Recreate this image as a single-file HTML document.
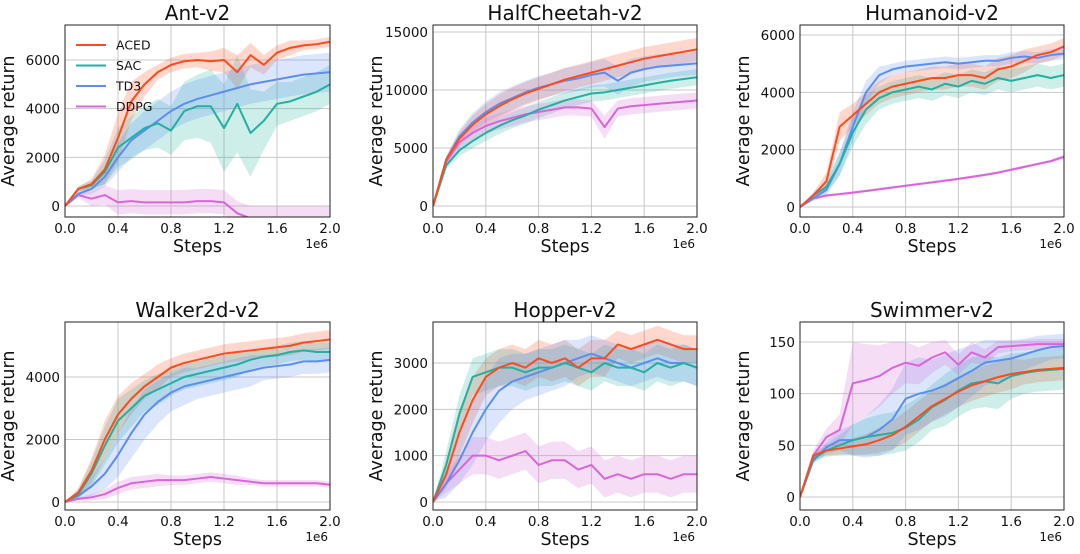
<!DOCTYPE html>
<html><head><meta charset="utf-8"><style>
body{margin:0;background:#fff;}
svg{display:block;font-family:"DejaVu Sans","Liberation Sans",sans-serif;}
</style></head><body>
<svg id="chart" width="1080" height="554" viewBox="0 0 1080 554"></svg>
<script>
const xValues=[0,0.1,0.2,0.3,0.4,0.5,0.6,0.7,0.8,0.9,1.0,1.1,1.2,1.3,1.4,1.5,1.6,1.7,1.8,1.9,2.0];
const seriesNames=["ACED","SAC","TD3","DDPG"];
const seriesColors=["#ff4a1c","#22b0a0","#5c8ef0","#d866d8"];
const xTicks=[0,0.4,0.8,1.2,1.6,2.0];
const xTickLabels=["0.0","0.4","0.8","1.2","1.6","2.0"];

const antAced=[0,700,900,1500,2800,4300,5000,5500,5800,5950,6000,5950,6000,5500,6200,5800,6300,6500,6600,6650,6750];
const antSac=[0,700,850,1400,2400,2800,3200,3400,3100,3900,4100,4100,3200,4200,3000,3500,4200,4300,4500,4700,5000];
const antTd3=[0,500,700,1200,2000,2700,3100,3500,3900,4200,4400,4550,4700,4850,5000,5100,5200,5300,5400,5450,5500];
const antDdpg=[0,450,300,450,150,200,150,150,150,150,200,200,150,-300,-500,-500,-500,-500,-500,-500,-500];
const antBand=[[0,100,200,600,1000,800,500,300,300,300,300,400,500,700,500,400,300,300,200,200,200],[0,100,200,500,800,900,900,1000,1000,1200,1300,1500,1800,2000,1800,1200,900,800,800,800,800],[0,100,200,400,600,700,800,800,800,800,800,800,800,800,800,800,800,800,800,800,800],[0,100,300,400,500,500,500,500,500,500,500,500,500,500,500,500,500,500,500,500,500]];

const hcAced=[0,4000,5800,7000,7900,8600,9200,9700,10100,10500,10900,11200,11500,11800,12100,12400,12700,12900,13100,13300,13500];
const hcSac=[0,3500,4800,5600,6300,6900,7400,7800,8300,8700,9100,9400,9700,9800,10000,10200,10400,10600,10800,10950,11100];
const hcTd3=[0,4000,6000,7200,8100,8800,9300,9800,10200,10500,10800,11000,11300,11500,10800,11500,11800,12000,12100,12200,12300];
const hcDdpg=[0,3800,5500,6300,6900,7300,7600,7900,8100,8300,8500,8500,8400,6800,8400,8600,8700,8800,8900,9000,9100];
const hcBand=[[0,300,600,800,900,1000,1000,1000,1000,1000,1000,1000,1000,1000,1000,1000,1000,1000,1000,1000,1000],[0,300,500,600,700,700,700,700,700,700,700,700,700,700,700,700,700,700,700,700,700],[0,300,600,800,900,1000,1000,1000,1000,1000,1100,1100,1100,1200,1200,1200,1100,1100,1000,1000,1000],[0,300,500,600,700,700,700,700,700,700,700,700,700,1000,700,700,700,700,700,700,700]];

const humAced=[0,400,900,2800,3200,3600,4000,4200,4300,4400,4500,4500,4600,4600,4500,4800,4900,5100,5300,5400,5600];
const humSac=[0,400,700,1500,2600,3400,3800,4000,4100,4200,4100,4300,4200,4400,4300,4500,4400,4500,4600,4500,4600];
const humTd3=[0,300,600,1500,2800,4000,4600,4800,4900,4950,5000,5050,5000,5050,5100,5100,5200,5250,5200,5300,5350];
const humDdpg=[0,300,400,450,500,560,620,680,740,800,860,920,980,1050,1120,1200,1300,1400,1500,1600,1750];
const humBand=[[0,100,300,500,400,400,400,400,400,400,400,400,400,400,400,400,400,400,300,300,300],[0,100,200,400,500,500,400,400,400,400,400,400,400,400,400,400,400,400,400,400,400],[0,100,200,400,500,400,300,200,200,200,200,200,200,200,200,200,200,200,200,200,200],[0,50,50,50,50,50,50,50,50,50,50,50,50,50,50,50,50,50,50,50,100]];

const walAced=[0,300,1000,2000,2800,3300,3700,4000,4300,4450,4550,4650,4750,4800,4850,4900,4950,5000,5100,5150,5200];
const walSac=[0,250,900,1800,2600,3000,3400,3600,3800,4000,4100,4200,4300,4400,4550,4650,4700,4800,4850,4800,4800];
const walTd3=[0,200,500,900,1500,2200,2800,3200,3500,3700,3800,3900,4000,4100,4200,4300,4350,4400,4500,4500,4550];
const walDdpg=[0,100,150,250,450,600,650,700,700,700,750,800,750,700,650,600,600,600,600,600,550];
const walBand=[[0,150,400,600,600,500,400,400,300,300,300,300,300,300,300,300,300,300,300,300,300],[0,150,400,600,700,600,500,500,400,400,400,400,400,400,300,300,300,300,300,300,300],[0,100,300,500,700,800,800,700,600,600,500,500,500,500,500,400,400,400,400,400,400],[0,50,100,150,200,200,200,200,150,150,150,150,150,150,100,100,100,100,100,100,100]];

const hopAced=[0,600,1500,2200,2700,2900,3000,2900,3100,3000,3100,2900,3100,3100,3400,3300,3400,3500,3400,3300,3300];
const hopSac=[0,800,1900,2700,2800,2900,2900,2800,2900,2900,3000,2900,2800,3000,2900,2900,2800,3000,2900,3000,2900];
const hopTd3=[0,400,900,1500,2000,2400,2600,2700,2800,2900,3000,3100,3200,3100,3000,2900,3000,3100,3000,3000,2900];
const hopDdpg=[0,400,700,1000,1000,900,1000,1100,800,900,900,700,800,500,600,500,600,600,500,600,600];
const hopBand=[[0,300,500,500,400,400,400,400,400,400,400,400,400,400,300,300,300,300,300,300,300],[0,300,400,400,400,400,400,400,400,400,400,400,400,400,400,400,400,400,400,400,400],[0,300,500,700,700,700,600,500,500,500,500,400,400,400,400,400,400,400,400,400,400],[0,200,300,400,400,400,400,400,400,400,400,400,400,400,400,400,400,400,400,400,400]];

const swiAced=[0,40,45,47,49,51,55,60,68,78,88,95,102,108,112,116,119,121,123,124,125];
const swiSac=[0,37,45,50,55,58,60,62,67,75,87,94,103,110,112,110,117,120,122,123,124];
const swiTd3=[0,35,48,55,55,58,65,75,95,100,103,108,115,122,130,132,134,138,142,145,146];
const swiDdpg=[0,40,58,65,110,113,117,125,130,127,135,140,128,140,135,145,146,147,148,148,148];
const swiBand=[[0,3,5,6,8,10,12,14,15,15,15,15,15,15,15,15,15,12,12,12,12],[0,3,6,10,15,18,20,20,22,22,22,25,25,25,25,25,22,20,20,20,20],[0,3,6,10,15,20,25,30,35,35,30,30,28,25,22,20,18,15,14,12,12],[0,5,8,15,40,35,30,25,20,18,15,12,10,10,8,6,5,5,5,5,5]];

const panels=[
 {name:"ant",title:"Ant-v2",x0:65,x1:330,top:25,bottom:217,y0px:206,ytop:60,ytopVal:6000,yticks:[0,2000,4000,6000],data:[antAced,antSac,antTd3,antDdpg],band:antBand,legend:true},
 {name:"halfcheetah",title:"HalfCheetah-v2",x0:433,x1:697,top:25,bottom:217,y0px:206,ytop:32,ytopVal:15000,yticks:[0,5000,10000,15000],data:[hcAced,hcSac,hcTd3,hcDdpg],band:hcBand},
 {name:"humanoid",title:"Humanoid-v2",x0:800,x1:1064,top:25,bottom:217,y0px:207,ytop:35,ytopVal:6000,yticks:[0,2000,4000,6000],data:[humAced,humSac,humTd3,humDdpg],band:humBand},
 {name:"walker2d",title:"Walker2d-v2",x0:65,x1:330,top:322,bottom:510,y0px:502,ytop:377,ytopVal:4000,yticks:[0,2000,4000],data:[walAced,walSac,walTd3,walDdpg],band:walBand},
 {name:"hopper",title:"Hopper-v2",x0:433,x1:697,top:322,bottom:510,y0px:502,ytop:363,ytopVal:3000,yticks:[0,1000,2000,3000],data:[hopAced,hopSac,hopTd3,hopDdpg],band:hopBand},
 {name:"swimmer",title:"Swimmer-v2",x0:800,x1:1064,top:322,bottom:510,y0px:497,ytop:342,ytopVal:150,yticks:[0,50,100,150],data:[swiAced,swiSac,swiTd3,swiDdpg],band:swiBand}
];
const NS="http://www.w3.org/2000/svg";
const svg=document.getElementById('chart');
function mk(tag,attrs,parent,text){const e=document.createElementNS(NS,tag);for(const k in attrs)e.setAttribute(k,attrs[k]);if(text!==undefined)e.textContent=text;(parent||svg).appendChild(e);return e;}
panels.forEach((p,pi)=>{
 const g=mk('g',{});
 
 
 const xs=v=>p.x0+(v-0)/2*(p.x1-p.x0);
 const ys=v=>p.y0px-(v/p.ytopVal)*(p.y0px-p.ytop);
 const cid='clip'+pi;
 const defs=mk('defs',{},g);const cp=mk('clipPath',{id:cid},defs);mk('rect',{x:p.x0,y:p.top,width:p.x1-p.x0,height:p.bottom-p.top},cp);
 xTicks.forEach(t=>{const l=mk('line',{x1:xs(t),x2:xs(t),y1:p.top,y2:p.bottom,stroke:'#c8c8c8','stroke-width':1},g);});
 p.yticks.forEach(t=>{const l=mk('line',{x1:p.x0,x2:p.x1,y1:ys(t),y2:ys(t),stroke:'#c8c8c8','stroke-width':1},g);});
 const plot=mk('g',{'clip-path':'url(#'+cid+')'},g);
 p.data.forEach((s,si)=>{
  const b=p.band[si];
  let d='M'+xValues.map((x,i)=>xs(x)+','+ys(s[i]+b[i])).join(' L');
  d+=' L'+xValues.map((x,i)=>[xs(x),ys(s[i]-b[i])]).reverse().map(q=>q[0]+','+q[1]).join(' L')+' Z';
  const e=mk('path',{d:d,fill:seriesColors[si],'fill-opacity':0.22,stroke:'none'},plot);
  
  
 });
 [3,2,1,0].forEach(si=>{
  const s=p.data[si];
  const e=mk('polyline',{points:xValues.map((x,i)=>xs(x)+','+ys(s[i])).join(' '),fill:'none',stroke:seriesColors[si],'stroke-width':2,'stroke-linejoin':'round'},plot);
  
  
 });
 const fr=mk('rect',{x:p.x0,y:p.top,width:p.x1-p.x0,height:p.bottom-p.top,fill:'none',stroke:'#222','stroke-width':1},g);
 
 xTicks.forEach((t,i)=>{const e=mk('text',{x:xs(t),y:p.bottom+16,'text-anchor':'middle','font-size':13.5,fill:'#111'},g,xTickLabels[i]);});
 p.yticks.forEach(t=>{const e=mk('text',{x:p.x0-5,y:ys(t)+5,'text-anchor':'end','font-size':13.5,fill:'#111'},g,String(t));});
 let e=mk('text',{x:(p.x0+p.x1)/2,y:p.top-5,'text-anchor':'middle','font-size':20,fill:'#111'},g,p.title);
 
 e=mk('text',{x:(p.x0+p.x1)/2,y:p.bottom+35,'text-anchor':'middle','font-size':17.5,fill:'#111'},g,'Steps');
 
 e=mk('text',{x:p.x1-2,y:p.bottom+31,'text-anchor':'end','font-size':12,fill:'#111'},g,'1e6');
 
 const ly=(p.top+p.bottom)/2, lx=p.x0-51;
 e=mk('text',{x:lx,y:ly,'text-anchor':'middle','font-size':17.5,fill:'#111',transform:'rotate(-90 '+lx+' '+ly+')'},g,'Average return');
 
 if(p.legend){
  const lg=mk('g',{},g);
  
  
  seriesNames.forEach((n,i)=>{
   const yy=45+i*20.5;
   const it=mk('g',{},lg);
   
   
   mk('line',{x1:76,x2:106,y1:yy,y2:yy,stroke:seriesColors[i],'stroke-width':2},it);
   mk('text',{x:116,y:yy+4.5,'font-size':12.5,fill:'#111'},it,n);
  });
 }
});
</script>
</body></html>
